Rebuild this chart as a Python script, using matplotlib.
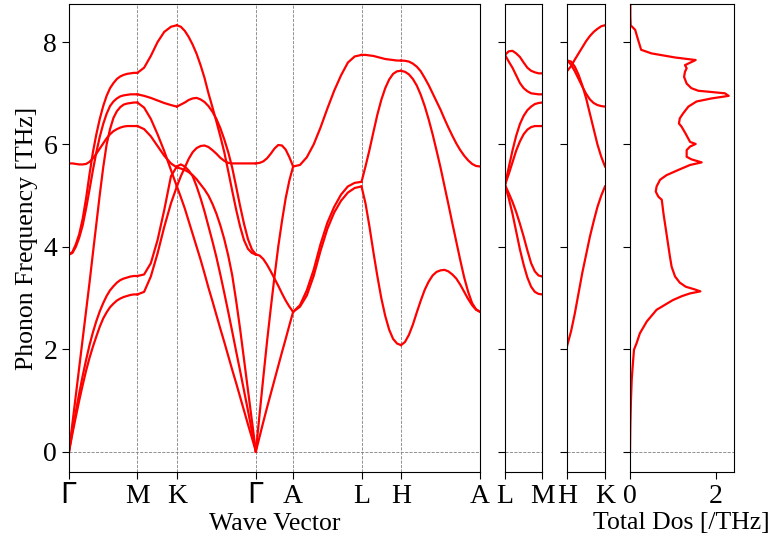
import numpy as np
import matplotlib.pyplot as plt

plt.rcParams['font.family'] = ['Liberation Serif', 'DejaVu Serif']
plt.rcParams['mathtext.fontset'] = 'dejavusans'

# ---- band data read off the picture (THz), sampled at fractions t of each segment ----
# main path G-M-K-G-A-L-H-A, segment lengths relative to |K-G| = 1
seg_len = [0.866, 0.5, 1.0, 0.472, 0.866, 0.5, 1.0]
main_labels = ['$\\Gamma$', 'M', 'K', '$\\Gamma$', 'A', 'L', 'H', 'A']

t20 = [i / 20 for i in range(21)]
t10 = [i / 10 for i in range(11)]

t_GM = t20
GM = [
    [0, 0.35, 0.68, 1.0, 1.30, 1.58, 1.83, 2.05, 2.25, 2.44, 2.60, 2.72, 2.82, 2.89, 2.95,
     2.99, 3.02, 3.04, 3.06, 3.07, 3.07],
    [0, 0.40, 0.78, 1.14, 1.48, 1.79, 2.08, 2.33, 2.55, 2.74, 2.90, 3.04, 3.15, 3.23, 3.30,
     3.35, 3.38, 3.40, 3.42, 3.43, 3.43],
    [0, 0.55, 1.10, 1.65, 2.20, 2.75, 3.30, 3.88, 4.45, 5.02, 5.55, 6.00, 6.30, 6.52, 6.65,
     6.73, 6.78, 6.80, 6.81, 6.82, 6.82],
    [3.85, 3.90, 4.05, 4.25, 4.55, 4.95, 5.42, 5.85, 6.20, 6.50, 6.75, 6.95, 7.10, 7.20, 7.28,
     7.33, 7.36, 7.38, 7.39, 7.40, 7.40],
    [3.85, 3.88, 4.00, 4.18, 4.42, 4.75, 5.12, 5.50, 5.85, 6.15, 6.40, 6.60, 6.75, 6.84, 6.90,
     6.94, 6.96, 6.97, 6.98, 6.98, 6.98],
    [5.63, 5.63, 5.62, 5.61, 5.61, 5.62, 5.66, 5.73, 5.82, 5.92, 6.02, 6.12, 6.20, 6.26, 6.30,
     6.33, 6.35, 6.36, 6.36, 6.36, 6.36],
]

t_MK = [0, .17, .34, .51, .68, .85, 1]
MK = [
    [3.07, 3.12, 3.42, 3.87, 4.39, 4.85, 5.18],
    [3.43, 3.46, 3.68, 4.13, 4.72, 5.38, 5.57],
    [6.82, 6.72, 6.50, 6.20, 5.87, 5.50, 5.18],
    [7.40, 7.50, 7.73, 8.00, 8.20, 8.30, 8.33],
    [6.98, 6.95, 6.91, 6.86, 6.81, 6.77, 6.74],
    [6.36, 6.30, 6.16, 5.97, 5.78, 5.63, 5.55],
]

t_KG = t20
KG = [
    [5.18, 5.38, 5.55, 5.72, 5.85, 5.93, 5.97, 5.98, 5.95, 5.89, 5.82, 5.74, 5.68, 5.64, 5.63,
     5.63, 5.63, 5.63, 5.63, 5.63, 5.63],
    [5.57, 5.61, 5.57, 5.49, 5.38, 5.18, 4.95, 4.69, 4.40, 4.11, 3.80, 3.46, 3.10, 2.73, 2.35,
     1.96, 1.58, 1.19, 0.80, 0.40, 0],
    [5.18, 4.97, 4.75, 4.50, 4.25, 4.00, 3.75, 3.48, 3.20, 2.94, 2.67, 2.40, 2.14, 1.87, 1.60,
     1.34, 1.07, 0.80, 0.53, 0.27, 0],
    [8.33, 8.30, 8.22, 8.10, 7.95, 7.77, 7.55, 7.30, 7.00, 6.73, 6.45, 6.16, 5.85, 5.48, 5.10,
     4.73, 4.40, 4.13, 3.96, 3.88, 3.85],
    [6.74, 6.78, 6.82, 6.87, 6.90, 6.91, 6.88, 6.83, 6.75, 6.64, 6.50, 6.32, 6.10, 5.85, 5.55,
     5.18, 4.80, 4.45, 4.15, 3.95, 3.85],
    [5.55, 5.53, 5.50, 5.46, 5.40, 5.32, 5.22, 5.12, 5.00, 4.84, 4.65, 4.42, 4.15, 3.83, 3.45,
     2.95, 2.40, 1.80, 1.20, 0.60, 0],
]

t_GA = t10
GA = [
    [5.63, 5.64, 5.67, 5.73, 5.82, 5.92, 5.99, 5.98, 5.90, 5.75, 5.57],
    [0, 0.73, 1.45, 2.15, 2.80, 3.42, 4.00, 4.50, 4.95, 5.30, 5.57],
    [0, 0.29, 0.58, 0.86, 1.13, 1.40, 1.67, 1.94, 2.20, 2.47, 2.73],
    [3.85, 3.83, 3.76, 3.65, 3.52, 3.38, 3.24, 3.09, 2.95, 2.83, 2.73],
]

t_AL = t10
AL = [
    [5.57, 5.60, 5.75, 6.00, 6.33, 6.70, 7.05, 7.35, 7.60, 7.72, 7.75],
    [2.73, 2.86, 3.15, 3.55, 4.05, 4.47, 4.78, 5.02, 5.18, 5.25, 5.27],
    [2.73, 2.83, 3.05, 3.43, 3.92, 4.35, 4.67, 4.90, 5.06, 5.15, 5.18],
]

t_LH = t10
LH = [
    [7.75, 7.75, 7.74, 7.73, 7.71, 7.69, 7.67, 7.66, 7.65, 7.64, 7.64],
    [5.27, 5.57, 5.89, 6.24, 6.58, 6.87, 7.10, 7.27, 7.38, 7.43, 7.44],
    [5.18, 4.85, 4.40, 3.90, 3.43, 3.00, 2.65, 2.38, 2.20, 2.11, 2.08],
]

t_HA = t20
HA = [
    [7.64, 7.635, 7.62, 7.58, 7.52, 7.43, 7.30, 7.16, 7.00, 6.84, 6.68, 6.50, 6.33, 6.17, 6.02,
     5.89, 5.78, 5.69, 5.62, 5.58, 5.57],
    [7.44, 7.42, 7.37, 7.28, 7.15, 6.97, 6.75, 6.49, 6.20, 5.88, 5.55, 5.19, 4.83, 4.46, 4.10,
     3.74, 3.40, 3.12, 2.90, 2.78, 2.73],
    [2.08, 2.14, 2.28, 2.48, 2.72, 2.95, 3.16, 3.32, 3.44, 3.51, 3.54, 3.55, 3.52, 3.46, 3.38,
     3.26, 3.12, 2.98, 2.86, 2.77, 2.73],
]

# side path L-M
lm_len = 0.472
t_LM = t10
LM = [
    [7.75, 7.82, 7.83, 7.78, 7.71, 7.60, 7.50, 7.44, 7.41, 7.39, 7.39],
    [7.75, 7.62, 7.50, 7.35, 7.20, 7.10, 7.04, 7.00, 6.99, 6.98, 6.98],
    [5.21, 5.55, 5.88, 6.17, 6.40, 6.56, 6.67, 6.74, 6.79, 6.81, 6.82],
    [5.21, 5.42, 5.65, 5.88, 6.06, 6.20, 6.29, 6.34, 6.36, 6.36, 6.36],
    [5.21, 5.05, 4.88, 4.68, 4.45, 4.20, 3.93, 3.68, 3.52, 3.44, 3.42],
    [5.21, 4.95, 4.65, 4.30, 3.95, 3.65, 3.40, 3.22, 3.12, 3.08, 3.07],
]

# side path H-K
hk_len = 0.477
t_HK = t10
HK = [
    [7.44, 7.53, 7.66, 7.78, 7.90, 8.02, 8.12, 8.20, 8.26, 8.31, 8.33],
    [7.64, 7.56, 7.43, 7.28, 7.13, 6.99, 6.88, 6.81, 6.77, 6.75, 6.74],
    [7.64, 7.62, 7.52, 7.36, 7.15, 6.90, 6.60, 6.30, 6.00, 5.76, 5.57],
    [2.08, 2.35, 2.70, 3.10, 3.50, 3.85, 4.20, 4.50, 4.78, 5.00, 5.18],
]

# total DOS
dos_freq = [0, 0.5, 1.0, 1.4, 1.66, 1.99, 2.12, 2.31, 2.54, 2.77, 2.96, 3.04, 3.09, 3.13,
            3.17, 3.22, 3.30, 3.42, 3.61, 3.81, 4.26, 4.65, 4.92, 4.98, 5.08, 5.18, 5.31,
            5.40, 5.50, 5.60, 5.65, 5.71, 5.76, 5.89, 5.96, 6.01, 6.05, 6.22, 6.35, 6.41,
            6.51, 6.61, 6.74, 6.84, 6.90, 6.95, 7.00, 7.05, 7.10, 7.19, 7.32, 7.42, 7.49,
            7.55, 7.65, 7.70, 7.78, 7.85, 8.04, 8.24, 8.33, 8.50, 8.74]
dos_val = [0, 0.008, 0.022, 0.04, 0.062, 0.093, 0.155, 0.23, 0.39, 0.62, 1.00, 1.22, 1.40,
           1.64, 1.50, 1.30, 1.16, 1.05, 0.97, 0.93, 0.85, 0.78, 0.74, 0.66, 0.60, 0.62,
           0.70, 0.85, 1.12, 1.40, 1.67, 1.43, 1.32, 1.32, 1.40, 1.53, 1.40, 1.29, 1.20,
           1.14, 1.16, 1.24, 1.36, 1.55, 1.90, 2.30, 2.21, 1.59, 1.43, 1.32, 1.26, 1.28,
           1.32, 1.28, 1.53, 1.05, 0.50, 0.26, 0.19, 0.12, 0.015, 0.008, 0.008]

ylim = (-0.4, 8.745)
red = '#ff0000'
fs_tick = 20
fs_lab = 18.5

W, H = 773, 544
fig = plt.figure(figsize=(W / 100, H / 100), dpi=100)


def box(x0, x1):
    return [x0 / W, 1 - 472 / H, (x1 - x0) / W, (472 - 4) / H]


def draw_segment(ax, x0, length, t, bands):
    x = x0 + length * np.asarray(t)
    for b in bands:
        ax.plot(x, b, color=red, lw=1.6)


def style(ax):
    ax.set_ylim(*ylim)
    ax.set_yticks([0, 2, 4, 6, 8])
    ax.axhline(0, color='gray', ls='--', lw=0.6, zorder=1)
    ax.tick_params(labelsize=fs_tick, length=5)


# main panel
ax1 = fig.add_axes(box(69, 480))
segments = [(t_GM, GM), (t_MK, MK), (t_KG, KG), (t_GA, GA), (t_AL, AL), (t_LH, LH), (t_HA, HA)]
ticks = [0.0]
for (t, bands), L in zip(segments, seg_len):
    draw_segment(ax1, ticks[-1], L, t, bands)
    ticks.append(ticks[-1] + L)
for xt in ticks:
    ax1.axvline(xt, color='gray', ls='--', lw=0.6, zorder=1)
ax1.set_xlim(0, ticks[-1])
ax1.set_xticks(ticks)
ax1.set_xticklabels(main_labels)
style(ax1)

# L-M panel
ax2 = fig.add_axes(box(505, 542.3))
draw_segment(ax2, 0, lm_len, t_LM, LM)
ax2.axvline(0, color='gray', ls='--', lw=0.6, zorder=1)
ax2.set_xlim(0, lm_len)
ax2.set_xticks([0, lm_len])
ax2.set_xticklabels(['L', 'M'])
style(ax2)
ax2.set_yticklabels([])

# H-K panel
ax3 = fig.add_axes(box(567.3, 605))
draw_segment(ax3, 0, hk_len, t_HK, HK)
ax3.axvline(hk_len, color='gray', ls='--', lw=0.6, zorder=1)
ax3.set_xlim(0, hk_len)
ax3.set_xticks([0, hk_len])
ax3.set_xticklabels(['H', 'K'])
style(ax3)
ax3.set_yticklabels([])

# DOS panel
ax4 = fig.add_axes(box(630, 734.3))
ax4.plot(dos_val, dos_freq, color=red, lw=1.6)
ax4.set_xlim(0, 2.43)
ax4.set_xticks([0, 2])
style(ax4)
ax4.set_yticklabels([])

fig.text(27.5 / W, 1 - 238 / H, 'Phonon Frequency [THz]', rotation=90,
         ha='center', va='center', fontsize=fs_lab)
fig.text(274.5 / W, 1 - 524 / H, 'Wave Vector', ha='center', va='center', fontsize=fs_lab)
fig.text(681 / W, 1 - 523 / H, 'Total Dos [/THz]', ha='center', va='center', fontsize=fs_lab)

fig.savefig('out.png', dpi=100)
